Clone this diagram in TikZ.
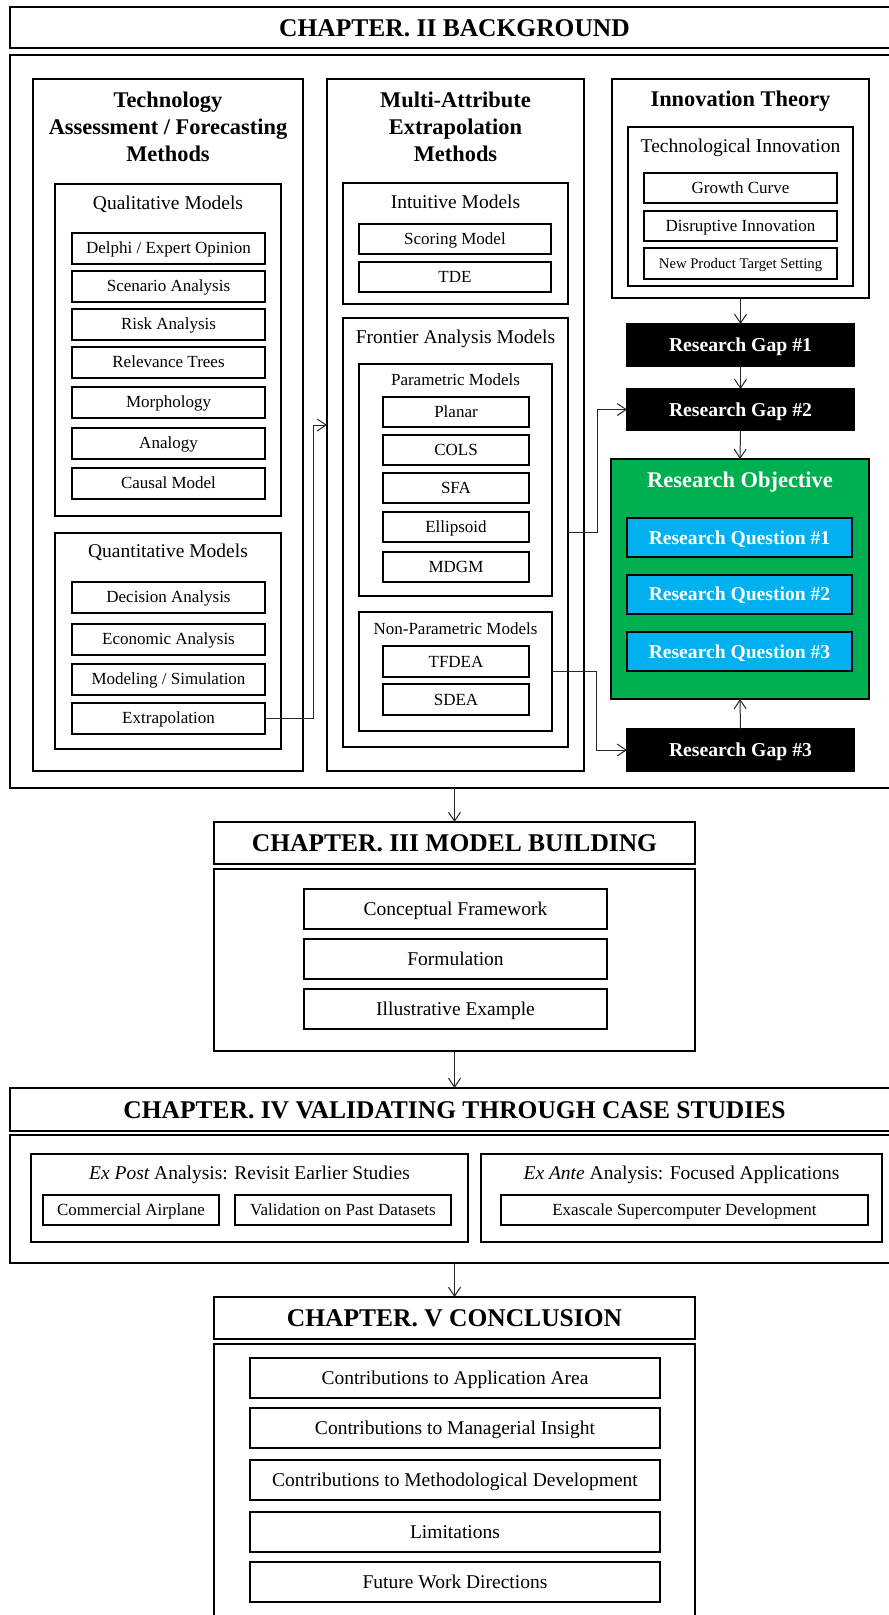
\documentclass[tikz,border=0pt]{standalone}
\usepackage{fontspec}
\setmainfont{Liberation Serif}
\usetikzlibrary{arrows.meta}
\definecolor{verdeobj}{HTML}{00B050}
\definecolor{azulrq}{HTML}{00B0F0}
% caja por sus esquinas: [estilo]{nombre}{x1}{y1}{x2}{y2}{texto}
\newcommand{\caja}[7][marco]{%
  \node[#1, minimum width={(#5)-(#3)}, minimum height={(#6)-(#4)}]
    (#2) at ({((#3)+(#5))/2},{((#4)+(#6))/2}) {#7};}
\begin{document}
\begin{tikzpicture}[x=1pt, y=-1pt, line join=miter,
  centrado/.style={text height=0.68*#1, text depth=0pt},
  marco/.style={draw, line width=2pt, inner sep=0pt, outer sep=0pt, align=center},
  elem/.style={marco, font=\fontsize{17}{20}\selectfont, centrado=17pt},
  elemg/.style={marco, font=\fontsize{19.5}{23}\selectfont, centrado=19.5pt},
  hueco/.style={marco, fill=black, font=\bfseries\fontsize{19.7}{23}\selectfont, text=white, centrado=19.7pt},
  pregunta/.style={marco, fill=azulrq, font=\bfseries\fontsize{19.6}{23}\selectfont, text=white, centrado=19.6pt},
  capitulo/.style={marco, font=\bfseries\fontsize{25.5}{30}\selectfont, centrado=25.5pt},
  tit/.style={font=\bfseries\fontsize{22.4}{27}\selectfont, align=center},
  tituno/.style={font=\bfseries\fontsize{22.4}{27}\selectfont, centrado=22.4pt},
  subtit/.style={font=\fontsize{19.5}{23}\selectfont, centrado=19.5pt},
  subtitp/.style={font=\fontsize{17}{20}\selectfont, centrado=17pt},
  flecha/.style={draw=black!85, line width=1pt, -{Straight Barb[length=9pt,width=12pt]}}]
  \useasboundingbox (0,0) rectangle (889,1615);
  \clip (0,0) rectangle (889,1615);
  % capitulo II
  \caja[capitulo]{c2t}{10}{7}{899}{48}{CHAPTER. II BACKGROUND}
  \caja{c2b}{10}{55}{899}{788}{}
  % columna izquierda
  \caja{tam}{33}{79}{303}{771}{}
  \node[tit] (tamt) at (168,127) {Technology\\Assessment / Forecasting\\Methods};
  \caja{qual}{55}{184}{281}{516}{}
  \node[subtit] (qualt) at (168,203) {Qualitative Models};
  \foreach \t/\y [count=\i] in {{Delphi / Expert Opinion}/248, Scenario Analysis/286,
      Risk Analysis/324, Relevance Trees/362, Morphology/402, Analogy/443, Causal Model/483} {
    \caja[elem]{ql\i}{72}{\y-15.5}{265}{\y+15.5}{\t}
  }
  \caja{quan}{55}{533}{281}{749}{}
  \node[subtit] (quant) at (168,551) {Quantitative Models};
  \foreach \t/\y [count=\i] in {Decision Analysis/597, Economic Analysis/639,
      {Modeling / Simulation}/679, Extrapolation/718} {
    \caja[elem]{qn\i}{72}{\y-15.5}{265}{\y+15.5}{\t}
  }
  % columna central
  \caja{mae}{327}{79}{584}{771}{}
  \node[tit] (maet) at (455.5,127) {Multi-Attribute\\Extrapolation\\Methods};
  \caja{intu}{343}{183}{568}{304}{}
  \node[subtit] (intut) at (455.5,202) {Intuitive Models};
  \caja[elem]{scor}{359}{224}{551}{254}{Scoring Model}
  \caja[elem]{tde}{359}{262}{551}{292}{TDE}
  \caja{front}{343}{318}{568}{747}{}
  \node[subtit] (frontt) at (455.5,337) {Frontier Analysis Models};
  \caja{param}{359}{364}{552}{596}{}
  \node[subtitp] (paramt) at (455.5,380) {Parametric Models};
  \foreach \t/\y [count=\i] in {Planar/412, COLS/450, SFA/488, Ellipsoid/527, MDGM/567} {
    \caja[elem]{pm\i}{383}{\y-15}{529}{\y+15}{\t}
  }
  \caja{nopar}{359}{612}{552}{731}{}
  \node[subtitp] (nopart) at (455.5,629) {Non-Parametric Models};
  \caja[elem]{tfdea}{383}{646}{529}{677}{TFDEA}
  \caja[elem]{sdea}{383}{684}{529}{715}{SDEA}
  % columna derecha
  \caja{innov}{612}{79}{869}{298}{}
  \node[tituno] (innovt) at (740.5,99) {Innovation Theory};
  \caja{techi}{628}{127}{853}{286}{}
  \node[subtit] (techit) at (740.5,146) {Technological Innovation};
  \caja[elem]{grow}{644}{173}{837}{203}{Growth Curve}
  \caja[elem]{disr}{644}{211}{837}{241}{Disruptive Innovation}
  \caja[marco, font=\fontsize{14.7}{17}\selectfont, centrado=14.7pt]{npts}{644}{248}{837}{279}{New Product Target Setting}
  \caja[hueco]{gap1}{627}{324}{854}{366}{Research Gap \#1}
  \caja[hueco]{gap2}{627}{389}{854}{430}{Research Gap \#2}
  \caja[marco, fill=verdeobj]{obj}{611}{459}{869}{699}{}
  \node[tituno, text=white] (objt) at (740,480) {Research Objective};
  \foreach \y [count=\i] in {537.5, 594, 651.5} {
    \caja[pregunta]{rq\i}{627}{\y-19.5}{852}{\y+19.5}{Research Question \#\i}
  }
  \caja[hueco]{gap3}{627}{729}{854}{771}{Research Gap \#3}
  % conectores del capitulo II
  \coordinate (entrada) at (327,425);
  \draw[flecha] (qn4.east) -- ++(48,0) |- (entrada);
  \draw[flecha] (front.east) -- ++(29,0) |- (gap2.west);
  \draw[flecha] (nopar.east) -- ++(44,0) |- (gap3.west);
  \draw[flecha] (innov.south) -- (gap1.north);
  \draw[flecha] (gap1.south) -- (gap2.north);
  \draw[flecha] (gap2.south) -- (obj.north);
  \draw[flecha] (gap3.north) -- (obj.south);
  % capitulo III
  \caja[capitulo]{c3t}{214}{822}{695}{864}{CHAPTER. III MODEL BUILDING}
  \caja{c3b}{214}{869}{695}{1051}{}
  \foreach \t/\y [count=\i] in {Conceptual Framework/909, Formulation/959, Illustrative Example/1009} {
    \caja[elemg]{mb\i}{304}{\y-20}{607}{\y+20}{\t}
  }
  \draw[flecha] (c3t.north |- c2b.south) -- (c3t.north);
  % capitulo IV
  \caja[capitulo]{c4t}{10}{1088}{899}{1131}{CHAPTER. IV VALIDATING THROUGH CASE STUDIES}
  \caja{c4b}{10}{1135}{899}{1263}{}
  \draw[flecha] (c3b.south) -- (c3b.south |- c4t.north);
  \caja{expo}{31}{1154}{468}{1242}{}
  \node[subtit] (expot) at (249.5,1173) {\itshape Ex Post\upshape{} Analysis: Revisit Earlier Studies};
  \caja[elem]{airp}{43}{1195}{219}{1225}{Commercial Airplane}
  \caja[elem]{vali}{235}{1195}{451}{1225}{Validation on Past Datasets}
  \caja{exan}{481}{1154}{882}{1242}{}
  \node[subtit] (exant) at (681.5,1173) {\itshape Ex Ante\upshape{} Analysis: Focused Applications};
  \caja[elem]{exas}{501}{1195}{868}{1225}{Exascale Supercomputer Development}
  % capitulo V
  \caja[capitulo]{c5t}{214}{1297}{695}{1339}{CHAPTER. V CONCLUSION}
  \caja{c5b}{214}{1344}{695}{1640}{}
  \draw[flecha] (c5t.north |- c4b.south) -- (c5t.north);
  \foreach \t/\y [count=\i] in {Contributions to Application Area/1378,
      Contributions to Managerial Insight/1428, Contributions to Methodological Development/1479.5,
      Limitations/1532, Future Work Directions/1582} {
    \caja[elemg]{cc\i}{250}{\y-20}{660}{\y+20}{\t}
  }
\end{tikzpicture}
\end{document}
